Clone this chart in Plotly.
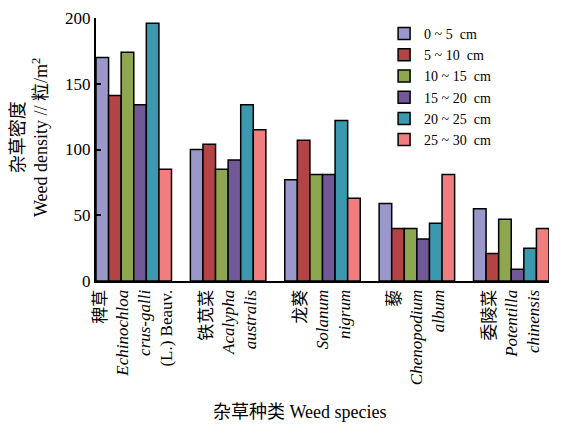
import plotly.graph_objects as go

categories = [
    "稗草<br><i>Echinochloa</i><br><i>crus-galli</i><br>(L.) Beauv.",
    "铁苋菜<br><i>Acalypha</i><br><i>australis</i>",
    "龙葵<br><i>Solanum</i><br><i>nigrum</i>",
    "藜<br><i>Chenopodium</i><br><i>album</i>",
    "委陵菜<br><i>Potentilla</i><br><i>chinensis</i>",
]
series_names = ["0 ~ 5  cm", "5 ~ 10  cm", "10 ~ 15  cm", "15 ~ 20  cm", "20 ~ 25  cm", "25 ~ 30  cm"]
d0_5 = [170, 100, 77, 59, 55]
d5_10 = [141, 104, 107, 40, 21]
d10_15 = [174, 85, 81, 40, 47]
d15_20 = [134, 92, 81, 32, 9]
d20_25 = [196, 134, 122, 44, 25]
d25_30 = [85, 115, 63, 81, 40]
series_values = [d0_5, d5_10, d10_15, d15_20, d20_25, d25_30]
colors = ["#9a98cb", "#b24446", "#8da64f", "#725896", "#3c98ae", "#f07e7e"]
y_ticks = [0, 50, 100, 150, 200]

FONT = "Liberation Serif, Times New Roman, Noto Sans CJK SC, serif"

fig = go.Figure()
for name, vals, col in zip(series_names, series_values, colors):
    fig.add_trace(go.Bar(
        x=list(range(len(categories))), y=vals, name=name,
        marker=dict(color=col, line=dict(color="black", width=1.5)),
    ))

fig.update_layout(
    width=576, height=416,
    margin=dict(l=88, r=35, t=10, b=143),
    paper_bgcolor="white", plot_bgcolor="white",
    barmode="group", bargap=0.2, bargroupgap=0,
    font=dict(family=FONT, color="black", size=16),
    legend=dict(x=0.636, y=1.0, xanchor="left", yanchor="top",
                font=dict(size=14), bgcolor="rgba(0,0,0,0)",
                tracegroupgap=0),
    xaxis=dict(
        range=[-0.4, 4.4], tickmode="array",
        tickvals=list(range(len(categories))), ticktext=categories,
        tickangle=-90, showline=True, linecolor="black", linewidth=2,
        ticks="", showgrid=False, zeroline=False, automargin=False,
        tickfont=dict(size=17),
    ),
    yaxis=dict(
        range=[0, 200], tickvals=y_ticks, showline=True, linecolor="black",
        linewidth=2, ticks="inside", ticklen=5, tickwidth=2, tickcolor="black",
        showgrid=False, zeroline=False, tickfont=dict(size=17), automargin=False,
        ticklabeloverflow="allow",
    ),
    annotations=[
        dict(
            text="杂草种类 Weed species", xref="paper", yref="paper",
            x=(300 - 96) / 453, y=-(412 - 281) / 263, xanchor="center", yanchor="middle",
            showarrow=False, font=dict(size=18),
        ),
        dict(
            text="杂草密度<br>Weed density // 粒/m<sup>2</sup>", xref="paper", yref="paper",
            x=-(96 - 29) / 453, y=(281 - 138) / 263, xanchor="center", yanchor="middle",
            textangle=-90, showarrow=False, font=dict(size=18),
        ),
    ],
)

fig.write_html("out.html")
